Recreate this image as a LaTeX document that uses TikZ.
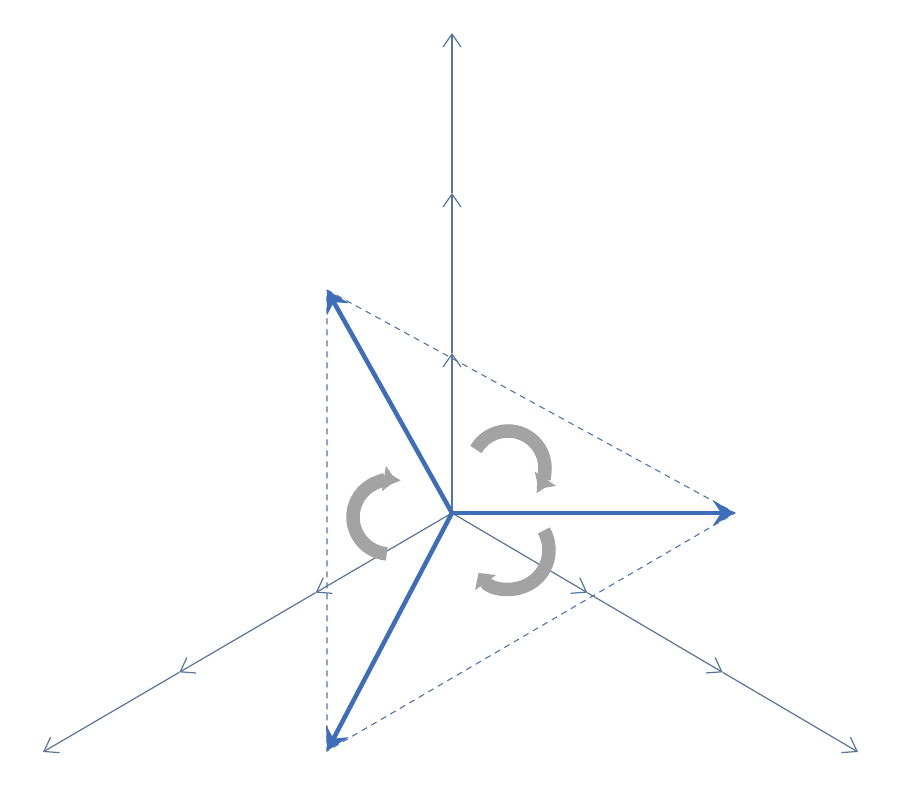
\documentclass[tikz,border=0pt]{standalone}
\usetikzlibrary{arrows.meta,calc}
\definecolor{axiscol}{RGB}{88,116,156}
\definecolor{vecblue}{RGB}{62,110,186}
\definecolor{dashblue}{RGB}{80,115,175}
\definecolor{arcgray}{RGB}{163,163,163}
\tikzset{
  axisline/.style={draw=axiscol, line width=1.2pt, -{Straight Barb[length=13pt,width=18pt,line width=1.2pt]}},
  phasor/.style={draw=vecblue, line width=4.5pt, -{Stealth[length=22pt,width=25pt,inset=8pt]}},
  dashline/.style={draw=dashblue, line width=1.1pt, dash pattern=on 6pt off 5pt},
  rotarrow/.style={draw=arcgray, line width=13.5pt, -{Triangle[length=12pt,width=25pt]}}
}
\begin{document}
\begin{tikzpicture}[x=1pt,y=1pt]
\useasboundingbox (0,0) rectangle (900,800);
% origin and axes
\coordinate (O) at (452,287);
\coordinate (U1) at (452,447);
\coordinate (U2) at (452,607);
\coordinate (U3) at (452,767);
\coordinate (L1) at ($(O)!1/3!(43,48)$);
\coordinate (L2) at ($(O)!2/3!(43,48)$);
\coordinate (L3) at (43,48);
\coordinate (R1) at ($(O)!1/3!(858,48)$);
\coordinate (R2) at ($(O)!2/3!(858,48)$);
\coordinate (R3) at (858,48);
% vector tips
\coordinate (A) at (327,510);
\coordinate (B) at (735,287);
\coordinate (C) at (327,49);
% dashed triangle
\draw[dashline] (A) -- (B) -- (C) -- cycle;
% axes
\draw[axisline] (O) -- (U1);
\draw[axisline] (U1) -- (U2);
\draw[axisline] (U2) -- (U3);
\draw[axisline] (O) -- (L1);
\draw[axisline] (L1) -- (L2);
\draw[axisline] (L2) -- (L3);
\draw[axisline] (O) -- (R1);
\draw[axisline] (R1) -- (R2);
\draw[axisline] (R2) -- (R3);
% phasors
\draw[phasor] (O) -- (A);
\draw[phasor] (O) -- (B);
\draw[phasor] (O) -- (C);
% rotation arrows
\coordinate (c1) at (508,332);
\coordinate (c2) at (390,283);
\coordinate (c3) at (510,250);
\draw[rotarrow] ([shift={(150:37)}]c1) arc[start angle=150, end angle=-34, radius=37];
\draw[rotarrow] ([shift={(265:37)}]c2) arc[start angle=265, end angle=81, radius=37];
\draw[rotarrow] ([shift={(30:39)}]c3) arc[start angle=30, end angle=-144, radius=39];
\end{tikzpicture}
\end{document}
